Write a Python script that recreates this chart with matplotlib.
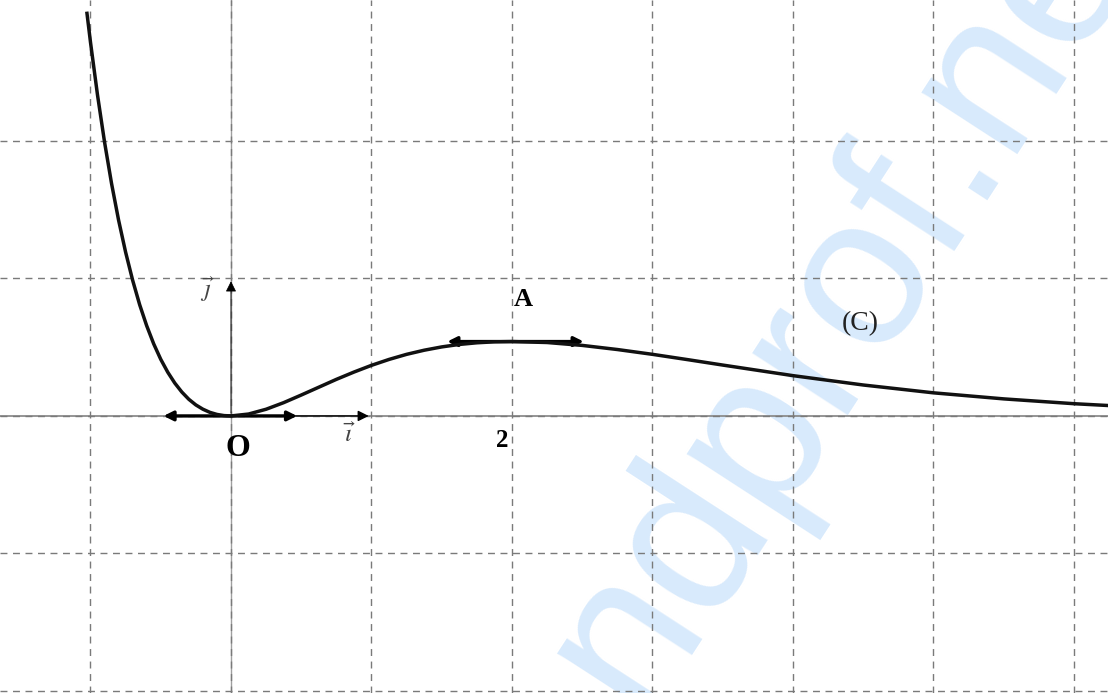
import matplotlib
matplotlib.use("Agg")
from matplotlib import pyplot as plt

# courbe (C) relevée point par point sur la figure
xs = [-1.025, -1.0, -0.95, -0.9, -0.85, -0.8, -0.75, -0.7, -0.65, -0.6, -0.55, -0.5,
      -0.45, -0.4, -0.35, -0.3, -0.25, -0.2, -0.15, -0.1, -0.05, 0.0,
      0.125, 0.25, 0.375, 0.5, 0.625, 0.75, 0.875, 1.0, 1.125, 1.25, 1.375, 1.5,
      1.625, 1.75, 1.875, 2.0, 2.25, 2.5, 2.75, 3.0, 3.25, 3.5, 4.0, 4.5, 5.0,
      5.5, 6.0, 6.25]
ys = [2.928, 2.718, 2.334, 1.992, 1.690, 1.424, 1.191, 0.987, 0.809, 0.656, 0.524, 0.412,
      0.318, 0.239, 0.174, 0.121, 0.080, 0.049, 0.026, 0.011, 0.0026, 0.0,
      0.0138, 0.0487, 0.0967, 0.152, 0.209, 0.266, 0.319, 0.368, 0.411, 0.448, 0.478, 0.502,
      0.520, 0.532, 0.539, 0.541, 0.534, 0.513, 0.483, 0.448, 0.4095, 0.370, 0.293, 0.225, 0.168,
      0.124, 0.089, 0.0754]

grid_x = [-1, 0, 1, 2, 3, 4, 5, 6]
grid_y = [-2, -1, 0, 1, 2]

# point A et tangentes
A = (2.0, 0.541)
tangente_O = (-0.5, 0.49)
tangente_A = (1.52, 2.53)

plt.rcParams['mathtext.fontset'] = 'stix'

fig = plt.figure(figsize=(11.08, 6.93), dpi=100)
ax = fig.add_axes([0, 0, 1, 1])
ax.set_xlim(-1.644, 6.242)
ax.set_ylim(-2.015, 3.025)

ax.set_xticks(grid_x)
ax.set_yticks(grid_y)
ax.grid(True, color='#7a7a7a', linestyle=(0, (5, 4)), linewidth=1.0)
ax.tick_params(length=0, labelbottom=False, labelleft=False)
for s in ax.spines.values():
    s.set_visible(False)

# filigrane
ax.text(0.577, -0.033, "ndprof.ne", transform=ax.transAxes, rotation=57,
        rotation_mode='anchor', ha='left', va='baseline', fontsize=155,
        family='Liberation Sans', color='#d8eafc', zorder=0.5)

# axes du repère
ax.axhline(0, color='#8c8c8c', lw=1.3, zorder=1)
ax.axvline(0, color='#a0a0a0', lw=1.0, zorder=1)

# vecteurs i et j
ax.annotate("", xy=(1, 0), xytext=(0, 0),
            arrowprops=dict(arrowstyle='-|>', color='black', lw=1.0, mutation_scale=16), zorder=3)
ax.annotate("", xy=(0, 1), xytext=(0, 0),
            arrowprops=dict(arrowstyle='-|>', color='black', lw=0.6, mutation_scale=16), zorder=3)

# tangentes
ax.annotate("", xy=(tangente_O[1], 0), xytext=(tangente_O[0], 0),
            arrowprops=dict(arrowstyle='<|-|>', color='black', lw=2.4, mutation_scale=14), zorder=4)
ax.annotate("", xy=(tangente_A[1], A[1]), xytext=(tangente_A[0], A[1]),
            arrowprops=dict(arrowstyle='<|-|>', color='black', lw=2.4, mutation_scale=14), zorder=4)

ax.plot(xs, ys, color='#111111', lw=2.5, zorder=5)

# textes
serif = 'Liberation Serif'
ax.text(0.05, -0.24, "O", family=serif, fontweight='bold', fontsize=23, ha='center', va='center')
ax.text(1.93, -0.18, "2", family=serif, fontweight='bold', fontsize=18, ha='center', va='center')
ax.text(2.08, 0.85, "A", family=serif, fontweight='bold', fontsize=19, ha='center', va='center')
ax.text(4.48, 0.67, "(C)", family=serif, fontsize=20, ha='center', va='center', color='#222222')
ax.text(0.84, -0.14, r"$\vec{\imath}$", fontsize=18, ha='center', va='center', color='#444444')
ax.text(-0.17, 0.92, r"$\vec{\jmath}$", fontsize=18, ha='center', va='center', color='#444444')

fig.savefig("out.png", dpi=100)
